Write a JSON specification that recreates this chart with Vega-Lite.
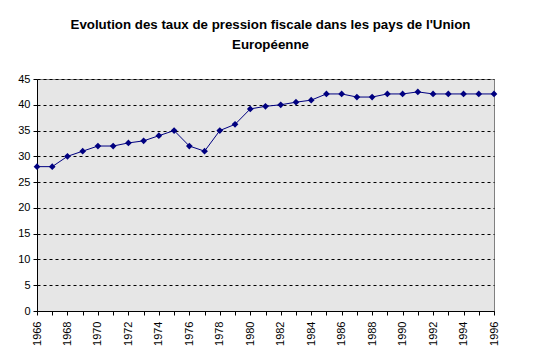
{
  "$schema": "https://vega.github.io/schema/vega-lite/v6.json",
  "autosize": "none",
  "width": 457,
  "height": 232,
  "padding": {"left": 37, "top": 79, "right": 50, "bottom": 49},
  "background": "white",
  "title": {
    "text": ["Evolution des taux de pression fiscale dans les pays de l'Union", "Européenne"],
    "font": "Liberation Sans",
    "fontSize": 13.3,
    "fontWeight": "bold",
    "color": "black",
    "lineHeight": 20,
    "anchor": "middle",
    "frame": "group",
    "offset": 22,
    "dx": 5
  },
  "config": {
    "view": {"fill": "#e6e6e6", "stroke": "#808080", "strokeWidth": 1},
    "axis": {
      "labelFont": "Liberation Sans",
      "labelFontSize": 11,
      "labelColor": "black",
      "domainColor": "black",
      "tickColor": "black",
      "title": null
    }
  },
  "data": {
    "values": [
      {"year": 1966, "value": 28},
      {"year": 1967, "value": 28},
      {"year": 1968, "value": 30},
      {"year": 1969, "value": 31},
      {"year": 1970, "value": 32},
      {"year": 1971, "value": 32},
      {"year": 1972, "value": 32.6},
      {"year": 1973, "value": 33},
      {"year": 1974, "value": 34},
      {"year": 1975, "value": 35},
      {"year": 1976, "value": 32},
      {"year": 1977, "value": 31},
      {"year": 1978, "value": 35},
      {"year": 1979, "value": 36.2},
      {"year": 1980, "value": 39.2},
      {"year": 1981, "value": 39.7},
      {"year": 1982, "value": 40},
      {"year": 1983, "value": 40.5},
      {"year": 1984, "value": 40.9},
      {"year": 1985, "value": 42.1},
      {"year": 1986, "value": 42.1},
      {"year": 1987, "value": 41.5},
      {"year": 1988, "value": 41.5},
      {"year": 1989, "value": 42.1},
      {"year": 1990, "value": 42.1},
      {"year": 1991, "value": 42.5},
      {"year": 1992, "value": 42.1},
      {"year": 1993, "value": 42.1},
      {"year": 1994, "value": 42.1},
      {"year": 1995, "value": 42.1},
      {"year": 1996, "value": 42.1}
    ]
  },
  "encoding": {
    "x": {
      "field": "year",
      "type": "quantitative",
      "scale": {"domain": [1966, 1996], "nice": false, "zero": false},
      "axis": {
        "values": [1966,1967,1968,1969,1970,1971,1972,1973,1974,1975,1976,1977,1978,1979,1980,1981,1982,1983,1984,1985,1986,1987,1988,1989,1990,1991,1992,1993,1994,1995,1996],
        "format": "d",
        "labelExpr": "datum.value % 2 == 0 ? datum.label : ''",
        "labelAngle": -90,
        "labelAlign": "right",
        "labelBaseline": "middle",
        "labelPadding": 6,
        "labelOverlap": false,
        "labelFlush": false,
        "tickSize": 4,
        "grid": false
      }
    },
    "y": {
      "field": "value",
      "type": "quantitative",
      "scale": {"domain": [0, 45], "nice": false},
      "axis": {
        "values": [0,5,10,15,20,25,30,35,40,45],
        "tickSize": 4,
        "labelPadding": 3,
        "grid": true,
        "gridColor": "black",
        "gridDash": [3, 3],
        "gridWidth": 1
      }
    }
  },
  "layer": [
    {"mark": {"type": "line", "color": "#000080", "strokeWidth": 1}},
    {"mark": {"type": "point", "shape": "diamond", "filled": true, "color": "#000080", "size": 45, "opacity": 1}}
  ]
}
